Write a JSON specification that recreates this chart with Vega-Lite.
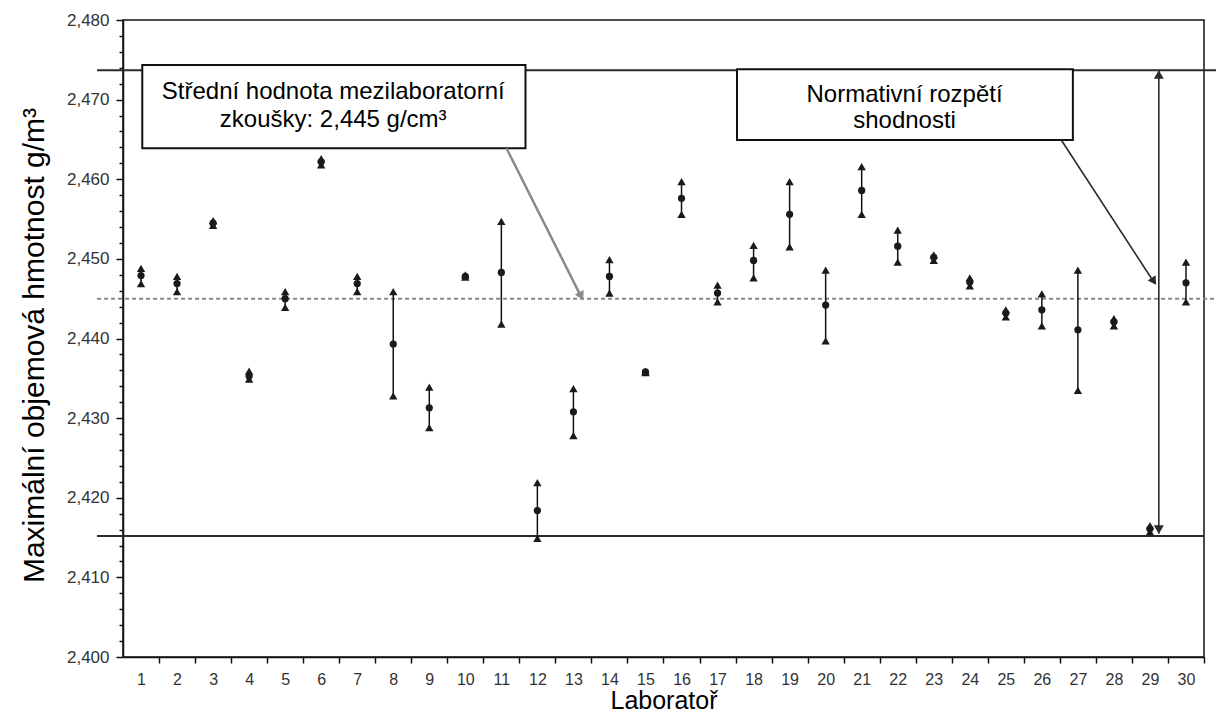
{
  "$schema": "https://vega.github.io/schema/vega-lite/v6.json",
  "width": 1081,
  "height": 637,
  "autosize": {"type": "none"},
  "padding": {"left": 123, "top": 20, "right": 12, "bottom": 58},
  "background": "white",
  "config": {
    "view": {"stroke": "#111", "strokeWidth": 1.5},
    "font": "Liberation Sans"
  },
  "datasets": {
    "labs": [
      {"x": 1, "lo": 2.4469, "mean": 2.4479, "hi": 2.4488},
      {"x": 2, "lo": 2.4459, "mean": 2.4469, "hi": 2.4478},
      {"x": 3, "lo": 2.4542, "mean": 2.4545, "hi": 2.4548},
      {"x": 4, "lo": 2.4349, "mean": 2.4353, "hi": 2.4359},
      {"x": 5, "lo": 2.4439, "mean": 2.4450, "hi": 2.4459},
      {"x": 6, "lo": 2.4618, "mean": 2.4622, "hi": 2.4626},
      {"x": 7, "lo": 2.4459, "mean": 2.4469, "hi": 2.4478},
      {"x": 8, "lo": 2.4328, "mean": 2.4393, "hi": 2.4459},
      {"x": 9, "lo": 2.4288, "mean": 2.4313, "hi": 2.4339},
      {"x": 10, "lo": 2.4477, "mean": 2.4478, "hi": 2.4480},
      {"x": 11, "lo": 2.4418, "mean": 2.4483, "hi": 2.4547},
      {"x": 12, "lo": 2.4149, "mean": 2.4184, "hi": 2.4219},
      {"x": 13, "lo": 2.4278, "mean": 2.4308, "hi": 2.4337},
      {"x": 14, "lo": 2.4457, "mean": 2.4478, "hi": 2.4499},
      {"x": 15, "lo": 2.4357, "mean": 2.4358, "hi": 2.4359},
      {"x": 16, "lo": 2.4556, "mean": 2.4576, "hi": 2.4597},
      {"x": 17, "lo": 2.4446, "mean": 2.4457, "hi": 2.4467},
      {"x": 18, "lo": 2.4476, "mean": 2.4498, "hi": 2.4517},
      {"x": 19, "lo": 2.4515, "mean": 2.4556, "hi": 2.4597},
      {"x": 20, "lo": 2.4397, "mean": 2.4442, "hi": 2.4486},
      {"x": 21, "lo": 2.4556, "mean": 2.4586, "hi": 2.4616},
      {"x": 22, "lo": 2.4496, "mean": 2.4516, "hi": 2.4536},
      {"x": 23, "lo": 2.4498, "mean": 2.4502, "hi": 2.4505},
      {"x": 24, "lo": 2.4466, "mean": 2.4471, "hi": 2.4476},
      {"x": 25, "lo": 2.4427, "mean": 2.4432, "hi": 2.4436},
      {"x": 26, "lo": 2.4416, "mean": 2.4436, "hi": 2.4456},
      {"x": 27, "lo": 2.4335, "mean": 2.4411, "hi": 2.4486},
      {"x": 28, "lo": 2.4416, "mean": 2.4421, "hi": 2.4425},
      {"x": 29, "lo": 2.4157, "mean": 2.4161, "hi": 2.4165},
      {"x": 30, "lo": 2.4446, "mean": 2.4470, "hi": 2.4496}
    ],
    "refs": [
      {"name": "upper", "y": 2.4737, "x": -0.22, "x2": 30.86},
      {"name": "lower", "y": 2.4152, "x": -0.22, "x2": 30.5},
      {"name": "mean", "y": 2.4450, "x": -0.22, "x2": 30.86}
    ],
    "boxes": [
      {"name": "b1", "x": 1.035, "x2": 11.670, "y": 2.46389, "y2": 2.47435},
      {"name": "b2", "x": 17.540, "x2": 26.861, "y": 2.46493, "y2": 2.47381}
    ],
    "notes": [
      {"x": 6.334, "y": 2.47004, "text": "Střední hodnota mezilaboratorní"},
      {"x": 6.334, "y": 2.46660, "text": "zkoušky: 2,445 g/cm³"},
      {"x": 22.19, "y": 2.46966, "text": "Normativní rozpětí"},
      {"x": 22.19, "y": 2.46640, "text": "shodnosti"}
    ],
    "arrows": [
      {"id": "a1", "x": 11.144, "y": 2.46389},
      {"id": "a1", "x": 13.230, "y": 2.44510},
      {"id": "a2", "x": 26.539, "y": 2.46493},
      {"id": "a2", "x": 29.120, "y": 2.44700},
      {"id": "v", "x": 29.246, "y": 2.4737},
      {"id": "v", "x": 29.246, "y": 2.4155}
    ],
    "heads": [
      {"id": "a1", "x": 13.216, "y": 2.44531},
      {"id": "a2", "x": 29.108, "y": 2.44717},
      {"id": "vup", "x": 29.246, "y": 2.47316},
      {"id": "vdown", "x": 29.246, "y": 2.41600}
    ]
  },
  "encoding": {
    "x": {
      "field": "x",
      "type": "quantitative",
      "scale": {"domain": [0.5, 30.5], "nice": false, "zero": false},
      "axis": {
        "values": [1,2,3,4,5,6,7,8,9,10,11,12,13,14,15,16,17,18,19,20,21,22,23,24,25,26,27,28,29,30],
        "format": "d",
        "tickOffset": 18,
        "labelOffset": -18,
        "tickSize": 6,
        "tickWidth": 1.5,
        "tickColor": "#111",
        "domainColor": "#111",
        "domainWidth": 1.5,
        "labelPadding": 8,
        "labelFontSize": 16,
        "labelFont": "Liberation Sans",
        "labelColor": "#333",
        "labelFlush": false,
        "labelOverlap": false,
        "grid": false,
        "title": "Laboratoř",
        "titleFont": "Liberation Sans",
        "titleFontSize": 25,
        "titleFontWeight": "normal",
        "titleColor": "#000",
        "titleBaseline": "alphabetic",
        "titleY": 51
      }
    },
    "y": {
      "field": "y",
      "type": "quantitative",
      "scale": {"domain": [2.4, 2.48], "nice": false, "zero": false},
      "axis": {
        "values": [2.4,2.402,2.404,2.406,2.408,2.41,2.412,2.414,2.416,2.418,2.42,2.422,2.424,2.426,2.428,2.43,2.432,2.434,2.436,2.438,2.44,2.442,2.444,2.446,2.448,2.45,2.452,2.454,2.456,2.458,2.46,2.462,2.464,2.466,2.468,2.47,2.472,2.474,2.476,2.478,2.48],
        "labelExpr": "round(datum.value*1000) % 10 === 0 ? replace(format(datum.value, '.3f'), '.', ',') : ''",
        "tickSize": {"condition": {"test": "round(datum.value*1000) % 10 === 0", "value": 7}, "value": 4},
        "tickWidth": 1.5,
        "tickColor": "#111",
        "domainColor": "#111",
        "domainWidth": 1.5,
        "labelPadding": 7,
        "labelFontSize": 17,
        "labelFont": "Liberation Sans",
        "labelColor": "#333",
        "labelFlush": false,
        "labelOverlap": false,
        "grid": false,
        "title": "Maximální objemová hmotnost g/m³",
        "titleFont": "Liberation Sans",
        "titleFontSize": 30,
        "titleFontWeight": "normal",
        "titleColor": "#000",
        "titleAngle": 270,
        "titleBaseline": "alphabetic",
        "titleX": -80,
        "titleY": 325
      }
    }
  },
  "layer": [
    {
      "data": {"name": "refs"},
      "transform": [{"filter": "datum.name === 'mean'"}],
      "mark": {"type": "rule", "stroke": "#888", "strokeWidth": 2, "strokeDash": [4, 3]},
      "encoding": {"x2": {"field": "x2"}}
    },
    {
      "data": {"name": "refs"},
      "transform": [{"filter": "datum.name !== 'mean'"}],
      "mark": {"type": "rule", "stroke": "#2a2a2a", "strokeWidth": 2},
      "encoding": {"x2": {"field": "x2"}}
    },
    {
      "data": {"name": "labs"},
      "transform": [{"fold": ["lo", "hi"], "as": ["k", "y"]}],
      "mark": {"type": "line", "stroke": "#111", "strokeWidth": 1.5},
      "encoding": {"detail": {"field": "x", "type": "nominal"}}
    },
    {
      "data": {"name": "labs"},
      "transform": [{"fold": ["lo", "hi"], "as": ["k", "y"]}],
      "mark": {"type": "point", "shape": "triangle-up", "filled": true, "color": "#1a1a1a", "size": 70, "opacity": 1}
    },
    {
      "data": {"name": "labs"},
      "transform": [{"fold": ["mean"], "as": ["k", "y"]}],
      "mark": {"type": "circle", "color": "#1a1a1a", "size": 52, "opacity": 1}
    },
    {
      "data": {"name": "boxes"},
      "mark": {"type": "rect", "fill": "white", "stroke": "#111", "strokeWidth": 2},
      "encoding": {"x2": {"field": "x2"}, "y2": {"field": "y2"}}
    },
    {
      "data": {"name": "notes"},
      "mark": {"type": "text", "font": "Liberation Sans", "fontSize": 24, "align": "center", "baseline": "alphabetic", "color": "#000"},
      "encoding": {"text": {"field": "text"}}
    },
    {
      "data": {"name": "arrows"},
      "transform": [{"filter": "datum.id === 'a1'"}],
      "mark": {"type": "line", "stroke": "#8a8a8a", "strokeWidth": 2.5}
    },
    {
      "data": {"name": "arrows"},
      "transform": [{"filter": "datum.id !== 'a1'"}],
      "mark": {"type": "line", "stroke": "#2a2a2a", "strokeWidth": 1.6},
      "encoding": {"detail": {"field": "id", "type": "nominal"}}
    },
    {
      "data": {"name": "heads"},
      "transform": [{"filter": "datum.id === 'a1'"}],
      "mark": {"type": "point", "shape": "triangle-up", "filled": true, "color": "#8a8a8a", "size": 100, "angle": 153.2, "opacity": 1}
    },
    {
      "data": {"name": "heads"},
      "transform": [{"filter": "datum.id === 'a2'"}],
      "mark": {"type": "point", "shape": "triangle-up", "filled": true, "color": "#2a2a2a", "size": 90, "angle": 146.8, "opacity": 1}
    },
    {
      "data": {"name": "heads"},
      "transform": [{"filter": "datum.id === 'vup'"}],
      "mark": {"type": "point", "shape": "triangle-up", "filled": true, "color": "#2a2a2a", "size": 100, "opacity": 1}
    },
    {
      "data": {"name": "heads"},
      "transform": [{"filter": "datum.id === 'vdown'"}],
      "mark": {"type": "point", "shape": "triangle-down", "filled": true, "color": "#2a2a2a", "size": 100, "opacity": 1}
    }
  ]
}
